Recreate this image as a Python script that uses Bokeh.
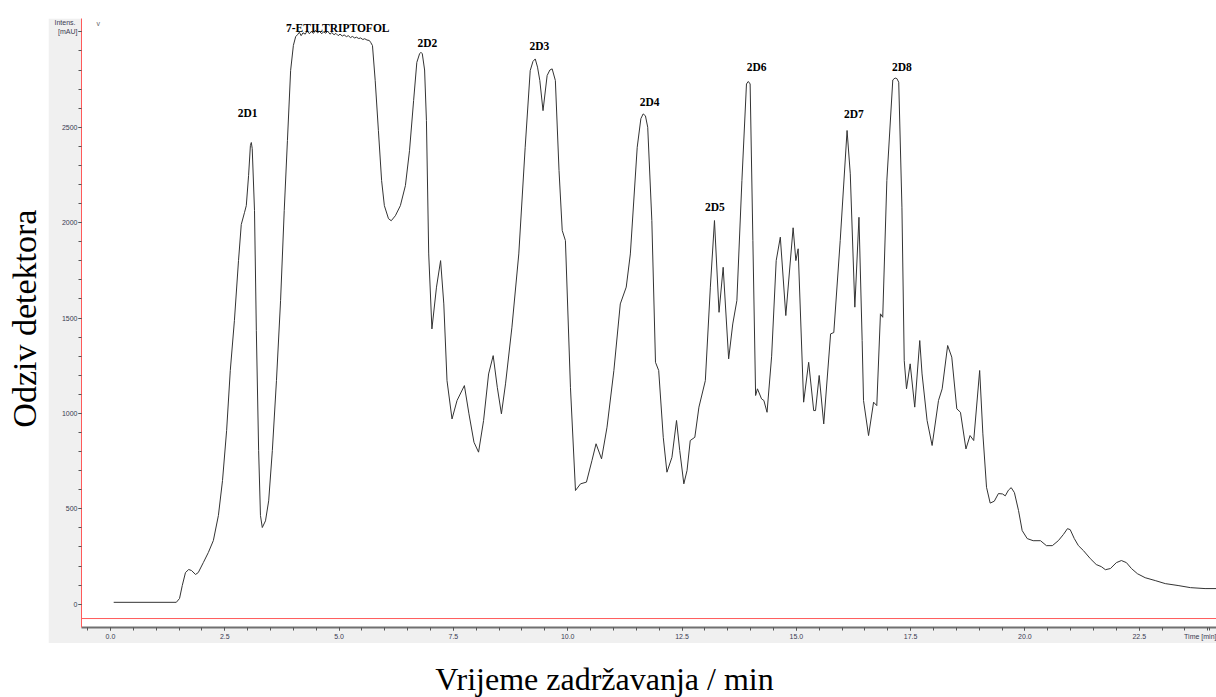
import math
from bokeh.plotting import figure
from bokeh.models import (Range1d, Label, Span, FixedTicker, LinearAxis,
                          NumeralTickFormatter, ColumnDataSource, Spacer)
from bokeh.layouts import column, row
from bokeh.core.properties import value
from bokeh.embed import file_html
from bokeh.resources import INLINE

# ---------------- data ----------------
time_min = [
    0.07, 1.44, 1.51, 1.57, 1.64, 1.71, 1.77, 1.86, 1.92, 2.03, 2.14, 2.25, 2.36,
    2.45, 2.54, 2.62, 2.71, 2.80, 2.86, 2.93, 2.97, 3.02, 3.06, 3.08, 3.10, 3.15,
    3.19, 3.24, 3.28, 3.32, 3.39, 3.46, 3.54, 3.63, 3.72, 3.80, 3.87, 3.94, 4.00,
    4.05, 4.09, 4.13, 4.17, 4.21, 4.26, 4.30, 4.35, 4.39, 4.44, 4.48, 4.53, 4.57,
    4.62, 4.66, 4.71, 4.75, 4.80, 4.84, 4.89, 4.93, 4.98, 5.02, 5.07, 5.11, 5.16,
    5.20, 5.25, 5.29, 5.34, 5.38, 5.43, 5.47, 5.52, 5.56, 5.61, 5.66, 5.69, 5.73,
    5.79, 5.86, 5.93, 5.99, 6.08, 6.14, 6.23, 6.34, 6.45, 6.54, 6.63, 6.70, 6.76,
    6.79, 6.82, 6.87, 6.91, 6.96, 7.03, 7.13, 7.22, 7.29, 7.36, 7.47, 7.58, 7.74,
    7.84, 7.95, 8.05, 8.16, 8.27, 8.37, 8.46, 8.55, 8.64, 8.78, 8.93, 9.07, 9.18,
    9.24, 9.29, 9.34, 9.39, 9.46, 9.55, 9.61, 9.66, 9.73, 9.81, 9.88, 9.95, 10.06,
    10.17, 10.28, 10.41, 10.53, 10.62, 10.74, 10.86, 11.01, 11.15, 11.28, 11.37,
    11.52, 11.60, 11.65, 11.70, 11.75, 11.84, 11.92, 11.99, 12.09, 12.17, 12.28,
    12.38, 12.45, 12.54, 12.61, 12.68, 12.78, 12.87, 13.01, 13.12, 13.21, 13.31,
    13.40, 13.52, 13.61, 13.70, 13.81, 13.91, 13.95, 13.99, 14.05, 14.11, 14.15,
    14.24, 14.29, 14.36, 14.46, 14.56, 14.65, 14.77, 14.93, 14.99, 15.04, 15.16,
    15.27, 15.38, 15.42, 15.50, 15.60, 15.75, 15.82, 15.96, 16.11, 16.18, 16.28,
    16.37, 16.44, 16.47, 16.58, 16.69, 16.76, 16.84, 16.89, 16.98, 17.11, 17.16,
    17.20, 17.24, 17.31, 17.36, 17.41, 17.49, 17.59, 17.70, 17.75, 17.86, 17.97,
    18.11, 18.19, 18.31, 18.40, 18.51, 18.59, 18.71, 18.80, 18.88, 19.01, 19.08,
    19.16, 19.24, 19.33, 19.42, 19.51, 19.57, 19.64, 19.70, 19.77, 19.86, 19.94,
    20.05, 20.18, 20.34, 20.47, 20.60, 20.73, 20.84, 20.93, 20.99, 21.08, 21.17,
    21.28, 21.43, 21.56, 21.67, 21.76, 21.87, 22.00, 22.11, 22.22, 22.33, 22.46,
    22.63, 22.85, 23.07, 23.35, 23.62, 23.94, 24.19,
]
intensity_mau = [
    10, 10, 30, 98, 166, 182, 177, 156, 166, 218, 271, 334, 465,
    648, 910, 1224, 1486, 1801, 1990, 2052, 2089, 2246, 2404, 2420, 2388, 2063,
    1434, 805, 465, 402, 437, 542, 805, 1172, 1591, 2063, 2430, 2798, 2929,
    2975, 2985, 2998, 2980, 2995, 2988, 3005, 2990, 3002, 2992, 3008, 2995, 3003,
    2990, 3000, 2993, 3004, 2988, 2996, 2985, 2992, 2980, 2988, 2978, 2984, 2975,
    2980, 2970, 2976, 2968, 2972, 2965, 2968, 2960, 2964, 2957, 2955, 2945, 2928,
    2744, 2482, 2220, 2089, 2021, 2010, 2036, 2089, 2194, 2377, 2640, 2840, 2885,
    2893, 2885, 2800, 2535, 1836, 1443, 1662, 1801, 1574, 1172, 971, 1068, 1146,
    998, 849, 797, 963, 1207, 1303, 1137, 998, 1155, 1452, 1836, 2395, 2797,
    2845, 2858, 2815, 2745, 2587, 2771, 2800, 2806, 2745, 2273, 1959, 1906, 1137,
    596, 631, 640, 753, 841, 762, 928, 1225, 1574, 1662, 1836,
    2395, 2545, 2570, 2560, 2500, 2011, 1268, 1225, 875, 692, 770,
    963, 806, 631, 701, 858, 875, 1033, 1172, 1662, 2011, 1530,
    1766, 1286, 1469, 1592, 2221, 2727, 2740, 2727, 1906, 1094, 1129,
    1076, 1068, 1006, 1300, 1801, 1924, 1513, 1973, 1801, 1863, 1059,
    1268, 1015, 1015, 1199, 945, 1417, 1424, 1906, 2483, 2256, 1557,
    2028, 1382, 1068, 884, 1059, 1041, 1522, 1504, 2221, 2748, 2758,
    2755, 2736, 2081, 1277, 1129, 1260, 1033, 1382, 1207, 963, 832,
    1068, 1129, 1356, 1295, 1024, 1006, 814, 884, 858, 1225, 893,
    613, 530, 540, 580, 578, 568, 598, 611, 585, 491, 386,
    344, 333, 333, 307, 307, 333, 365, 396, 391, 344, 307,
    281, 239, 208, 197, 181, 187, 218, 229, 218, 187, 160,
    139, 124, 108, 98, 87, 82, 82,
]

peak_names = ["2D1", "7-ETILTRIPTOFOL", "2D2", "2D3", "2D4", "2D5", "2D6", "2D7", "2D8"]
peak_label_t = [3.00, 4.97, 6.93, 9.38, 11.79, 13.22, 14.13, 16.26, 17.31]
peak_label_v = [2576, 3020, 2943, 2927, 2634, 2083, 2817, 2571, 2817]

x_major_ticks = [0.0, 2.5, 5.0, 7.5, 10.0, 12.5, 15.0, 17.5, 20.0, 22.5]
x_minor_ticks = [i * 0.5 for i in range(-1, 49)]
x_unit_tick = 24.04
y_major_ticks = [0, 500, 1000, 1500, 2000, 2500, 3000]
y_minor_ticks = list(range(0, 3001, 100))
y_unit_tick = 3052

y_title = "Odziv detektora"
x_title = "Vrijeme zadržavanja / min"
y_unit_lines = ["Intens.", "[mAU]"]
x_unit = "Time [min]"

# ---------------- styling ----------------
RED = "#ff5a5a"
PANEL = "#f0f0f0"
TICK_TXT = "#3a3a50"
SERIF = "Liberation Serif"
SANS = "Liberation Sans"

main = figure(width=1168, height=625,
              x_range=Range1d(-0.634, 24.19), y_range=Range1d(-122, 3070),
              output_backend="svg", toolbar_location=None,
              min_border_left=33, min_border_right=0, min_border_top=0,
              min_border_bottom=16,
              background_fill_color="white", border_fill_color=PANEL,
              outline_line_color=None)
main.xgrid.visible = False
main.ygrid.visible = False

xa = main.xaxis[0]
xa.ticker = FixedTicker(ticks=x_major_ticks + [x_unit_tick], minor_ticks=x_minor_ticks)
xa.formatter = NumeralTickFormatter(format="0.0")
xa.major_label_overrides = {x_unit_tick: x_unit}
xa.axis_line_color = "#707070"
xa.axis_line_width = 2
xa.major_tick_in = 0
xa.major_tick_out = 3
xa.minor_tick_in = 0
xa.minor_tick_out = 3
xa.major_tick_line_color = "#555555"
xa.minor_tick_line_color = "#555555"
xa.major_label_text_font = SANS
xa.major_label_text_font_size = "7px"
xa.major_label_text_color = TICK_TXT
xa.major_label_standoff = 2

ya = main.yaxis[0]
ya.ticker = FixedTicker(ticks=y_major_ticks, minor_ticks=y_minor_ticks)
ya.formatter = NumeralTickFormatter(format="0")
ya.major_label_overrides = {3000: y_unit_lines[1]}
ya.axis_line_color = RED
ya.axis_line_width = 1
ya.major_tick_in = 0
ya.major_tick_out = 3
ya.minor_tick_in = 0
ya.minor_tick_out = 3
ya.major_tick_line_color = "#555555"
ya.minor_tick_line_color = "#555555"
ya.major_label_text_font = SANS
ya.major_label_text_font_size = "7px"
ya.major_label_text_color = TICK_TXT
ya.major_label_standoff = 1

# second (outer) left axis carrying only the "Intens." caption
cap_axis = LinearAxis(ticker=FixedTicker(ticks=[y_unit_tick], minor_ticks=[]),
                      major_label_overrides={y_unit_tick: y_unit_lines[0]},
                      axis_line_color=None, major_tick_line_color=None,
                      minor_tick_line_color=None, major_tick_out=0, major_tick_in=0,
                      minor_tick_out=0, minor_tick_in=0,
                      major_label_standoff=-20,
                      major_label_text_font=SANS, major_label_text_font_size="7px",
                      major_label_text_color=TICK_TXT)
main.add_layout(cap_axis, "left")

main.add_layout(Span(location=-75, dimension="width", line_color=RED, line_width=1))

main.line(time_min, intensity_mau, line_color="#333333", line_width=1,
          line_join="round")

src = ColumnDataSource(dict(t=peak_label_t, v=peak_label_v, name=peak_names))
main.text(x="t", y="v", text="name", source=src,
          text_font=value(SERIF), text_font_style="bold",
          text_font_size="11.5px", text_color="black",
          text_align="center", text_baseline="middle")

main.add_layout(Label(x=-0.27, y=3046, text="v", text_align="center",
                      text_baseline="middle",
                      text_font=SANS, text_font_size="7px", text_color="#666666"))

# left title strip
left = figure(width=48, height=625, x_range=Range1d(0, 48), y_range=Range1d(0, 625),
              x_axis_location=None, y_axis_location=None,
              output_backend="svg", toolbar_location=None, min_border=0,
              outline_line_color=None, background_fill_color="white",
              border_fill_color="white")
left.xgrid.visible = False
left.ygrid.visible = False
left.add_layout(Label(x=23.5, y=317, text=y_title, angle=math.pi / 2,
                      text_align="center", text_baseline="middle",
                      text_font=SERIF, text_font_size="34px", text_color="black"))

# bottom title strip
bottom = figure(width=1216, height=54, x_range=Range1d(0, 1216), y_range=Range1d(0, 54),
                x_axis_location=None, y_axis_location=None,
                output_backend="svg", toolbar_location=None, min_border=0,
                outline_line_color=None, background_fill_color="white",
                border_fill_color="white")
bottom.xgrid.visible = False
bottom.ygrid.visible = False
bottom.add_layout(Label(x=604, y=18.5, text=x_title,
                        text_align="center", text_baseline="middle",
                        text_font=SERIF, text_font_size="32px", text_color="black"))

layout = column(Spacer(width=1216, height=18), row(left, main), bottom)

open("out.html", "w").write(file_html(layout, INLINE, "chromatogram"))
